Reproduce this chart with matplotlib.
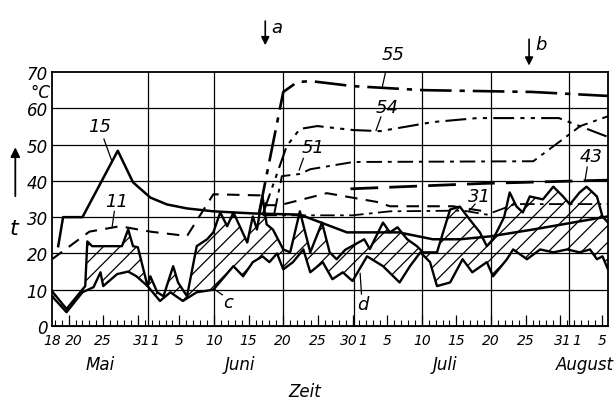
import matplotlib.pyplot as plt

# days since 18 May
upper_x = [-0.4, 1.7, 4.4, 4.7, 5.4, 9.7, 10.6, 11.3, 12.0, 13.4, 13.8, 14.8, 15.7, 17.1, 17.8, 19.1,
           20.5, 22.0, 22.9, 23.9, 24.9, 25.8, 27.8, 28.6, 29.2, 30.0, 30.6, 31.5, 33.0, 34.0, 35.4,
           36.9, 38.6, 39.7, 40.7, 41.95, 44.7, 45.5, 47.4, 48.4, 49.5, 50.9, 52.3, 53.2, 55.2, 57.1,
           58.5, 59.9, 61.4, 62.4, 63.3, 64.9, 65.7, 66.7, 67.6, 68.6, 70.5, 72.0, 73.4, 74.4, 75.8,
           76.8, 78.3, 79.1, 79.9]
upper_t = [9.6, 4.7, 11, 23.3, 22, 22, 26.6, 22, 21.7, 11, 13.7, 9.3, 8.2, 16.5, 12, 8.2,
           22, 23.9, 25.8, 31.3, 27.5, 31.3, 23, 30.2, 26.6, 35.7, 28, 26.6, 21.1, 20.3, 31.6,
           20.3, 28.5, 20.3, 18.4, 21, 23.9, 21.2, 28.5, 25.8, 27.2, 23.9, 22, 20.3, 20.3, 32.1,
           32.9, 29.4, 25.8, 22, 23.9, 30, 36.8, 32.9, 31.3, 35.7, 34.9, 38.4, 35.7, 33.5, 36.8,
           38.4, 35.7, 30.2, 28.5]

lower_x = [-0.4, 1.7, 4.0, 5.6, 6.6, 7.0, 9.0, 10.6, 11.8, 13.4, 15.2, 16.7, 18.5, 20.5, 22.9,
           25.8, 27.2, 28.6, 30.0, 31.0, 32.1, 33.0, 34.4, 35.9, 36.9, 38.7, 40.1, 41.6, 43.0, 45.1,
           47.4, 49.8, 51.3, 52.8, 54.2, 55.2, 57.1, 58.9, 60.3, 62.4, 63.3, 65.3, 66.2, 68.2, 70.1,
           72.0, 74.0, 75.8, 77.3, 78.3, 79.1, 79.9]
lower_t = [8.2, 3.8, 9.3, 10.7, 14.8, 11, 14.3, 15, 13.7, 11, 6.9, 9.3, 6.9, 9.3, 10,
           16.5, 13.7, 17.6, 19.2, 17.6, 20, 15.6, 17.6, 21.1, 14.8, 17.6, 12.9, 14.8, 12.4, 19.2,
           16.5, 12, 16.5, 20.3, 17.6, 11, 12, 18.4, 14.8, 17.6, 13.7, 18.4, 21.1, 18.4, 21.1,
           20.3, 21.1, 20.3, 21.1, 18.4, 19.2, 15.6]

c15_x = [0.5, 1.2, 4.0, 9.1, 11.3, 13.8, 16.2, 19.1, 22.9, 25.8, 28.9, 35.4, 42.2, 49.7, 54.6,
         58.5, 62.9, 69.1, 79.9]
c15_t = [22, 30, 30, 48.3, 39.6, 35.4, 33.5, 32.4, 31.6, 31.3, 31, 30.7, 25.8, 25.8, 23.9,
         23.9, 24.7, 26.6, 30.2]

c11_x = [-0.4, 5.0, 9.4, 13.8, 19.1, 22.9, 29.6, 30.6, 32.5, 39.3, 46.5, 48.4, 57.5, 62.4]
c11_t = [18.4, 26, 27.5, 26, 24.8, 36.3, 36, 33.3, 33.3, 36.6, 34.2, 33, 33, 31.5]

c31_x = [30.0, 43.0, 48.4, 59.0, 62.4, 66.5, 79.9]
c31_t = [30.5, 30.5, 31.6, 31.8, 30.7, 33.6, 33.6]

c43_x = [42.7, 62.0, 79.9]
c43_t = [37.8, 39.3, 40.2]

c51_x = [31.7, 32.8, 35.4, 36.9, 43.1, 69.1, 73.4, 75.9, 79.9]
c51_t = [31, 41.3, 41.9, 43.2, 45.2, 45.4, 51.5, 55.1, 57.8]

c54_x = [30.1, 33.5, 35.4, 37.9, 43.1, 47.0, 54.6, 61.0, 72.8, 79.9]
c54_t = [31.1, 49.6, 54.3, 55.1, 54.0, 53.7, 56.2, 57.3, 57.3, 52.1]

c55_x = [29.5, 33.0, 35.0, 36.9, 43.1, 53.2, 69.0, 79.9]
c55_t = [31.1, 64.5, 67.2, 67.5, 66.1, 65.0, 64.5, 63.4]

# tick label positions (pairs like "31 1" pushed slightly apart as in the drawing)
tick_pos = [-0.3, 2.7, 7, 12.6, 14.5, 18, 23, 28, 33, 38, 42.5, 44.5, 48, 53, 58, 63, 68,
            73.4, 75.4, 79]
tick_labels = ['18', '20', '25', '31', '1', '5', '10', '15', '20', '25', '30', '1', '5',
               '10', '15', '20', '25', '31', '1', '5']
five_days = [2, 7, 12, 18, 23, 28, 33, 38, 43, 48, 53, 58, 63, 68, 73, 79]
grid_days = [13.5, 23, 33, 43.2, 53, 63, 74.3]
months = ['Mai', 'Juni', 'Juli', 'August']
month_pos = [6.5, 26.8, 56.4, 76.5]

plt.rcParams['font.family'] = ['DejaVu Sans']
plt.rcParams['font.style'] = 'italic'
plt.rcParams['hatch.linewidth'] = 0.9

fig = plt.figure(figsize=(6.14, 4.02), dpi=100)
ax = fig.add_axes([52 / 614, 75 / 402, 556 / 614, 254 / 402])
ax.set_xlim(-0.4, 79.9)
ax.set_ylim(0, 70)

# grid
for g in grid_days:
    ax.axvline(g, color='black', lw=0.9, zorder=1)
for h in range(10, 70, 10):
    ax.axhline(h, color='black', lw=0.9, zorder=1)
for s in ax.spines.values():
    s.set_linewidth(1.3)

# hatched band between daily extremes
ax.fill(upper_x + lower_x[::-1], upper_t + lower_t[::-1], facecolor='none',
        edgecolor='black', hatch='//', lw=0, zorder=2)
ax.plot(upper_x, upper_t, color='black', lw=1.7, zorder=3)
ax.plot(lower_x, lower_t, color='black', lw=1.7, zorder=3)

ax.plot(c15_x, c15_t, color='black', lw=1.8, zorder=3)
ax.plot(c11_x, c11_t, color='black', lw=1.5, ls=(0, (6, 4)), zorder=3)
ax.plot(c31_x, c31_t, color='black', lw=1.3, ls=(0, (8, 3, 2, 3)), zorder=3)
ax.plot(c43_x, c43_t, color='black', lw=2.0, ls=(0, (10, 4)), zorder=3)
ax.plot(c51_x, c51_t, color='black', lw=1.4, ls=(0, (8, 3, 2, 3)), zorder=3)
ax.plot(c54_x, c54_t, color='black', lw=1.5, ls=(0, (10, 3, 2, 3, 2, 3)), zorder=3)
ax.plot(c55_x, c55_t, color='black', lw=1.9, ls=(0, (12, 3, 2, 3)), zorder=3)

# axis ticks
ax.set_yticks(range(0, 80, 10))
ax.set_yticklabels([str(v) for v in range(0, 80, 10)], fontsize=12)
ax.tick_params(axis='y', length=0, pad=3)
ax.set_xticks(tick_pos)
ax.set_xticklabels(tick_labels, fontsize=10)
ax.set_xticks(range(0, 80), minor=True)
ax.tick_params(axis='x', which='major', length=0, pad=5)
ax.tick_params(axis='x', which='minor', direction='in', length=4, width=0.8)
sec = ax.secondary_xaxis('bottom')
sec.set_xticks(five_days)
sec.tick_params(direction='in', length=8, width=0.9, labelbottom=False)

for m, p in zip(months, month_pos):
    ax.text(p, -0.15, m, transform=ax.get_xaxis_transform(), ha='center', va='center', fontsize=12)
ax.text(36.1, -0.255, 'Zeit', transform=ax.get_xaxis_transform(), ha='center', va='center', fontsize=12)

ax.text(-2.1, 64.6, '°C', ha='center', va='center', fontsize=12)
ax.annotate('', xy=(-5.7, 50), xytext=(-5.7, 35), annotation_clip=False,
            arrowprops=dict(arrowstyle='-|>', color='black', lw=1.3, mutation_scale=14))
ax.text(-5.9, 27, 't', ha='center', va='center', fontsize=16)

# event arrows a, b
ax.annotate('', xy=(30.4, 76.6), xytext=(30.4, 84.8), annotation_clip=False,
            arrowprops=dict(arrowstyle='-|>', color='black', lw=1.2, mutation_scale=12))
ax.text(32.1, 82.3, 'a', ha='center', va='center', fontsize=13)
ax.annotate('', xy=(68.5, 71.0), xytext=(68.5, 79.8), annotation_clip=False,
            arrowprops=dict(arrowstyle='-|>', color='black', lw=1.2, mutation_scale=12))
ax.text(70.2, 77.7, 'b', ha='center', va='center', fontsize=13)

# curve labels with leader lines
labels = [('15', (6.5, 55.1), (7.1, 51.5), (8.3, 45.2)),
          ('11', (9.0, 34.4), (8.6, 31.6), (8.3, 27.5)),
          ('55', (48.9, 74.9), (48.0, 71.9), (47.3, 65.9)),
          ('54', (48.0, 60.3), (47.1, 57.6), (46.4, 53.9)),
          ('51', (37.3, 49.3), (35.9, 46.2), (35.3, 43.0)),
          ('43', (77.4, 46.8), (76.9, 43.8), (76.6, 40.3)),
          ('31', (61.4, 35.8), (60.7, 33.6), (59.8, 31.6)),
          ('c', (25.1, 6.6), (24.2, 8.6), (23.0, 10.2)),
          ('d', (44.5, 6.0), (44.3, 8.8), (44.1, 14.5))]
for txt, tp, p0, p1 in labels:
    ax.text(tp[0], tp[1], txt, ha='center', va='center', fontsize=13, zorder=5)
    ax.plot([p0[0], p1[0]], [p0[1], p1[1]], color='black', lw=0.9, zorder=5)

fig.savefig('out.png', dpi=100)
